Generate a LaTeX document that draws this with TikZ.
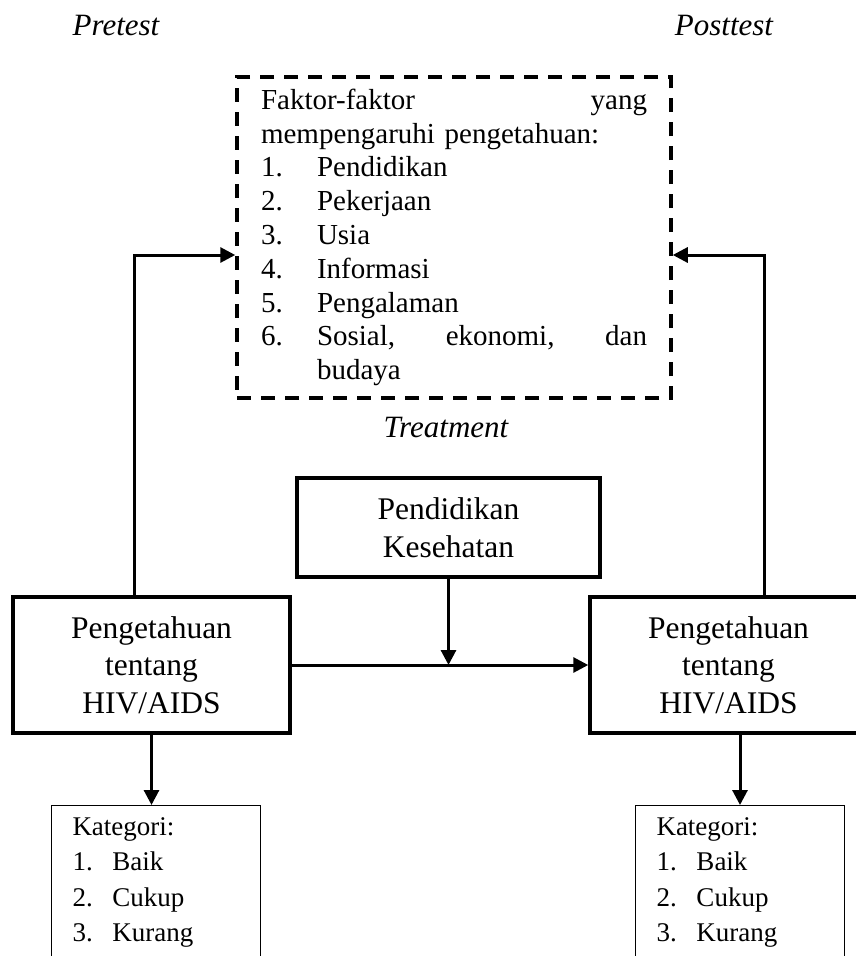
\documentclass[tikz,border=0pt]{standalone}
\usepackage{fontspec}
\setmainfont{Liberation Serif}
\usetikzlibrary{arrows.meta}
\tikzset{mainbox/.style={draw, line width=3.5pt, align=center, inner sep=0pt, font=\fontsize{31.5}{37.5}\selectfont},
dashbox/.style={draw, line width=3.5pt, dash pattern=on 14pt off 10pt, text width=386pt, align=left, inner sep=0pt, minimum width=434pt, minimum height=321pt, font=\fontsize{29}{33.8}\selectfont},
katbox/.style={draw, line width=1pt, anchor=north west, text width=167pt, align=left, inner xsep=21pt, inner ysep=12pt, font=\fontsize{27}{35.5}\selectfont},
%italic labels above the boxes
testlabel/.style={font=\fontsize{31}{37}\selectfont\itshape},
arr/.style={-{Triangle[length=15pt,width=15pt]}, line width=3pt}}

\begin{document}
\begin{tikzpicture}[x=1pt,y=-1pt]
 \useasboundingbox (0,0) rectangle (856,956);
 %Drawing Labels
 \node[testlabel] (pretestlabel) at (116,25) {Pretest};
 \node[testlabel] (posttestlabel) at (724,25) {Posttest};
 \node[testlabel] (treatlabel) at (446,428) {Treatment};

 %Drawing Factor Box
 \node[dashbox] (faktor) at (454,237.5) {\hbox to 386pt{Faktor-faktor\hfill yang}\\
 mempengaruhi pengetahuan:\\
 \makebox[56pt][l]{1.}Pendidikan\\
 \makebox[56pt][l]{2.}Pekerjaan\\
 \makebox[56pt][l]{3.}Usia\\
 \makebox[56pt][l]{4.}Informasi\\
 \makebox[56pt][l]{5.}Pengalaman\\
 \makebox[56pt][l]{6.}\hbox to 330pt{Sosial,\hfill ekonomi,\hfill dan}\\
 \hspace*{56pt}budaya};

 %Drawing Main Boxes
 \node[mainbox, minimum width=303pt, minimum height=99pt] (pendkes) at (448.5,527.5) {Pendidikan\\Kesehatan};
 \node[mainbox, minimum width=277pt, minimum height=136pt] (pre) at (151.5,665) {Pengetahuan\\tentang\\HIV/AIDS};
 \node[mainbox, minimum width=277pt, minimum height=136pt] (post) at (728.5,665) {Pengetahuan\\tentang\\HIV/AIDS};

 %Drawing Category Boxes
 \node[katbox] (katpre) at (51,805) {Kategori:\\
 \makebox[40pt][l]{1.}Baik\\
 \makebox[40pt][l]{2.}Cukup\\
 \makebox[40pt][l]{3.}Kurang};
 \node[katbox] (katpost) at (635,805) {Kategori:\\
 \makebox[40pt][l]{1.}Baik\\
 \makebox[40pt][l]{2.}Cukup\\
 \makebox[40pt][l]{3.}Kurang};

 %Drawing Arrows
 \draw[arr] ([xshift=-17.5pt]pre.north) |- ([yshift=-17.5pt]faktor.west);
 \draw[arr] ([xshift=35.5pt]post.north) |- ([yshift=-17.5pt]faktor.east);
 \draw[arr] (pre.east) -- (post.west);
 \draw[arr] (pendkes.south) -- (pendkes.south |- pre.east);
 \draw[arr] (pre.south) -- (pre.south |- katpre.north);
 \draw[arr] (katpost.north |- post.south) -- (katpost.north);
\end{tikzpicture}
\end{document}
